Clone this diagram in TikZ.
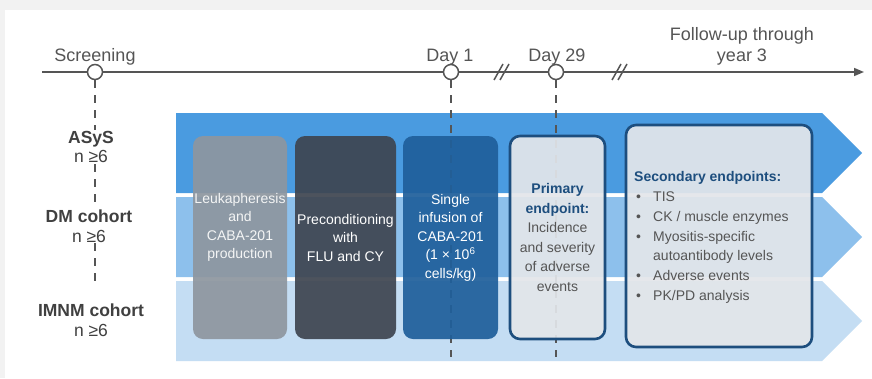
\documentclass[tikz,border=0pt]{standalone}
\usepackage{fontspec}
\setmainfont{Liberation Sans}
\usetikzlibrary{arrows.meta,positioning}

\definecolor{bandA}{HTML}{4A9BE0}
\definecolor{bandB}{HTML}{8DC0EC}
\definecolor{bandC}{HTML}{C4DDF3}
\definecolor{leukgray}{HTML}{8E969F}
\definecolor{precdark}{HTML}{3E4550}
\definecolor{infblue}{HTML}{1F5F9B}
\definecolor{endfill}{HTML}{E3E6EA}
\definecolor{endblue}{HTML}{1D4E7E}
\definecolor{txtgray}{HTML}{555555}
\definecolor{labgray}{HTML}{404040}
\definecolor{framegray}{HTML}{F2F2F2}

% bullet of the secondary endpoint list, and the blue bold headings
\newcommand{\secitem}{\makebox[19pt][l]{\hspace{2pt}\textbullet}}
\newcommand{\ptheading}[1]{\textbf{\textcolor{endblue}{#1}}}

\begin{document}
\begin{tikzpicture}[x=1pt, y=-1pt,
    tllabel/.style={font=\fontsize{18}{21}\selectfont, text=txtgray, anchor=base, inner sep=0pt},
    milestone/.style={circle, draw=txtgray, line width=1.5pt, fill=white, minimum size=15pt, inner sep=0pt},
    visit/.style={draw=txtgray, line width=1.8pt, dash pattern=on 8pt off 7pt},
    cohort/.style={font=\fontsize{17.5}{19.5}\selectfont, text=labgray, align=center, inner sep=1pt},
    stagebox/.style={rounded corners=10pt, minimum height=203pt, inner sep=0pt, fill opacity=0.92},
    stagetext/.style={font=\fontsize{14}{18.5}\selectfont, align=center, inner sep=0pt},
    endbox/.style={stagebox, draw=endblue, line width=2.6pt, fill=endfill}]

    % page frame
    \fill[framegray] (0,0) rectangle (872,378);
    \fill[white] (5,10) rectangle (872,378);
    \useasboundingbox (0,0) rectangle (872,378);

    % cohort bands
    \foreach \top/\col in {113/bandA, 197/bandB, 281/bandC}
        \fill[\col] (176,\top) -- (822,\top) -- (862,\top+40) -- (822,\top+80)
            -- (176,\top+80) -- cycle;

    % timeline
    \coordinate (tlstart) at (42,72);
    \coordinate (tlend) at (864,72);
    \draw[txtgray, line width=1.5pt, -{Triangle[length=10pt,width=8pt]}] (tlstart) -- (tlend);
    \foreach \bx in {503,621}
        \draw[txtgray, line width=1.5pt] (\bx-9,80) -- (\bx,64) (\bx-3,80) -- (\bx+6,64);

    \node[milestone] (scr) at (95,72) {};
    \node[milestone] (day1) at (451,72) {};
    \node[milestone] (day29) at (556,72) {};

    \node[tllabel] (scrlab) at (95,61) {Screening};
    \node[tllabel] (d1lab) at (450,61) {Day 1};
    \node[tllabel] (d29lab) at (557,61) {Day 29};
    \node[tllabel, anchor=center, align=center] (fuplab) at (742,46) {Follow-up through\\year 3};

    % cohorts
    \node[cohort] (asys) at (91,147) {\textbf{ASyS}\\n ≥6};
    \node[cohort] (dm) at (89,226) {\textbf{DM cohort}\\n ≥6};
    \node[cohort] (imnm) at (91,320) {\textbf{IMNM cohort}\\n ≥6};

    \draw[visit] (scr) -- (asys.north -| scr);
    \draw[visit] (asys.south -| scr) -- (dm.north -| scr);
    \draw[visit, shorten >=18pt] (dm.south -| scr) -- (imnm.north -| scr);

    \coordinate (d1end) at (451,357);
    \coordinate (d29end) at (556,357);
    \draw[visit] (day1) -- (d1end);
    \draw[visit] (day29) -- (d29end);

    % study stages
    \node[stagebox, fill=leukgray, minimum width=94pt] (leuk) at (240,237.5) {};
    \node[stagetext, text=white!90!leukgray] (leuktxt) at ([yshift=10pt]leuk.center)
        {Leukapheresis\\and\\CABA-201\\production};

    \node[stagebox, fill=precdark, minimum width=101pt] (prec) at (345.5,237.5) {};
    \node[stagetext, text=white] (prectxt) at (prec.center)
        {Preconditioning\\with\\FLU and CY};

    \node[stagebox, fill=infblue, minimum width=95pt] (inf) at (450.5,237.5) {};
    \node[stagetext, text=white] (inftxt) at (inf.center)
        {Single\\infusion of\\CABA-201\\(1 × 10\textsuperscript{6}\\cells/kg)};

    \node[endbox, minimum width=95pt] (prim) at (557.5,237.5) {};
    \node[stagetext, text=txtgray, font=\fontsize{14}{19.6}\selectfont] (primtxt) at (prim.center)
        {\ptheading{Primary}\\\ptheading{endpoint:}\\Incidence\\and severity\\of adverse\\events};

    \node[endbox, minimum width=186pt, minimum height=222pt] (sec) at (719,236) {};
    \node[stagetext, align=left, anchor=west, text=txtgray, font=\fontsize{14}{19.8}\selectfont]
        (sectxt) at (634,237.5)
        {\ptheading{Secondary endpoints:}\\
         \secitem TIS\\
         \secitem CK / muscle enzymes\\
         \secitem Myositis-specific\\
         \hspace*{19pt}autoantibody levels\\
         \secitem Adverse events\\
         \secitem PK/PD analysis};
\end{tikzpicture}
\end{document}
